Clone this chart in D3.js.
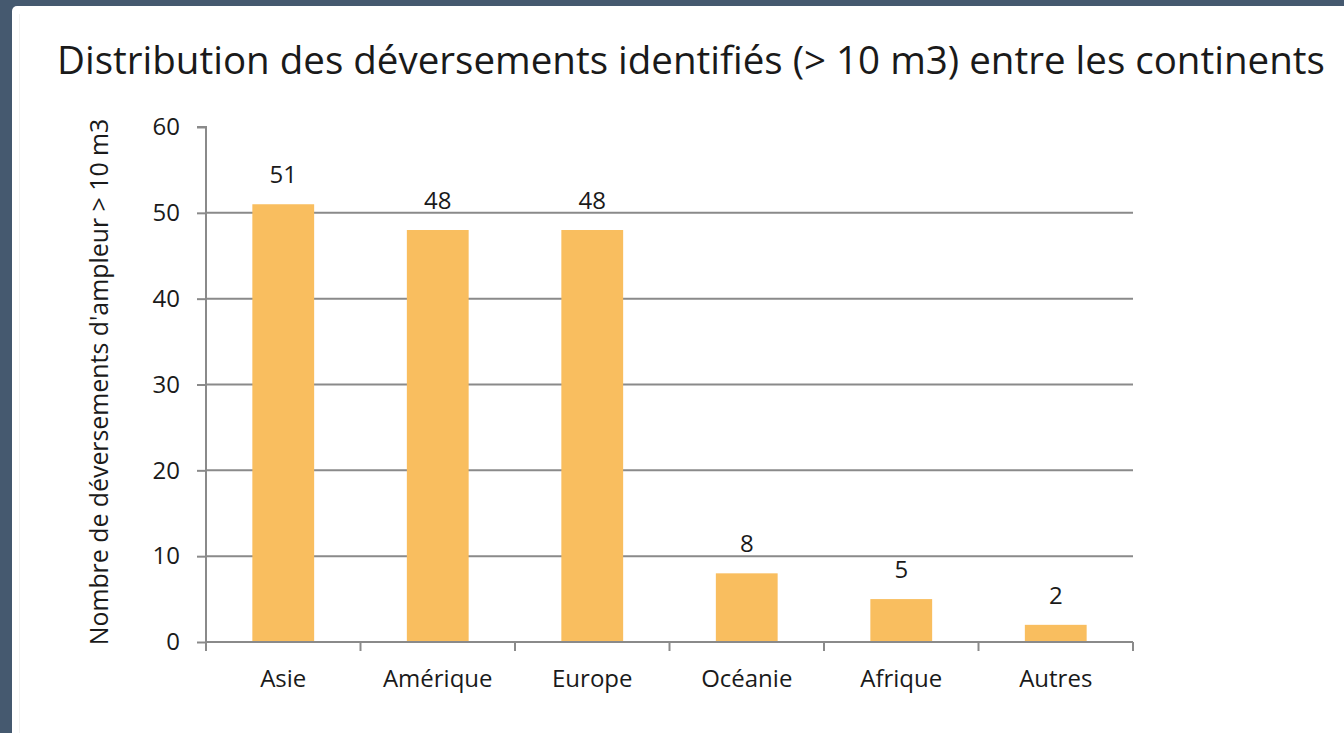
<!DOCTYPE html>
<html>
<head>
<meta charset="utf-8">
<script src="https://cdn.jsdelivr.net/npm/d3@7"></script>
<style>
  html, body { margin: 0; padding: 0; background: #45596f; }
  svg { display: block; }
  text { font-family: "Open Sans", "Noto Sans", sans-serif; fill: #1a1a1a; }
</style>
</head>
<body>
<svg id="chart" width="1344" height="733"></svg>
<script>
const categories = ["Asie", "Amérique", "Europe", "Océanie", "Afrique", "Autres"];
const values = [51, 48, 48, 8, 5, 2];
const yTicks = [0, 10, 20, 30, 40, 50, 60];
const title = "Distribution des déversements identifiés (> 10 m3) entre les continents";
const yLabel = "Nombre de déversements d'ampleur > 10 m3";

(function () {
const svg = d3.select("#chart");
const W = 1344, H = 733;

// background panel
svg.append("rect").attr("x", 0).attr("y", 0).attr("width", W).attr("height", H).attr("fill", "#45596f");
svg.append("rect").attr("x", 12).attr("y", 6).attr("width", W).attr("height", H).attr("rx", 5).attr("fill", "#ffffff");
svg.append("line").attr("x1", 19.5).attr("x2", 19.5).attr("y1", 14).attr("y2", H)
  .attr("stroke", "#f1f1f1").attr("stroke-width", 1);

const pl = 206, pr = 1133, pt = 127, pb = 642;
const x = d3.scaleBand().domain(categories).range([pl, pr]).paddingInner(0.6).paddingOuter(0.3);
const y = d3.scaleLinear().domain([0, 60]).range([pb, pt]);

const gridColor = "#8a8a8a";
const fs = 24;

// gridlines (excluding 0 and top)
svg.append("g").selectAll("line").data(yTicks.filter(t => t > 0 && t < 60)).join("line")
  .attr("x1", pl).attr("x2", pr).attr("y1", d => y(d)).attr("y2", d => y(d))
  .attr("stroke", gridColor).attr("stroke-width", 2);

// bars
svg.append("g").selectAll("rect").data(categories).join("rect")
  .attr("x", d => x(d)).attr("width", x.bandwidth())
  .attr("y", (d, i) => y(values[i])).attr("height", (d, i) => y(0) - y(values[i]))
  .attr("fill", "#f9be5f");

// y axis
const yAxis = d3.axisLeft(y).tickValues(yTicks).tickSize(9).tickPadding(17).tickFormat(d3.format("d"));
const gy = svg.append("g").attr("transform", `translate(${pl},0)`).call(yAxis);
gy.select(".domain").attr("stroke", gridColor).attr("stroke-width", 2).attr("d", `M-9,${pt}H0V${pb}`);
gy.selectAll(".tick line").attr("stroke", gridColor).attr("stroke-width", 2);
gy.selectAll(".tick text").attr("font-size", fs).attr("font-family", "\"Open Sans\", sans-serif").attr("fill", "#1a1a1a");

// x axis
const gx = svg.append("g").attr("transform", `translate(0,${pb})`);
gx.append("line").attr("x1", pl).attr("x2", pr).attr("y1", 0).attr("y2", 0)
  .attr("stroke", gridColor).attr("stroke-width", 2);
const boundaries = d3.range(categories.length + 1).map(i => pl + i * x.step());
gx.selectAll("line.tk").data(boundaries).join("line").attr("class", "tk")
  .attr("x1", d => d).attr("x2", d => d).attr("y1", 0).attr("y2", 9)
  .attr("stroke", gridColor).attr("stroke-width", 2);
gx.selectAll("text").data(categories).join("text")
  .attr("x", d => x(d) + x.bandwidth() / 2).attr("y", 45)
  .attr("text-anchor", "middle").attr("font-size", fs).text(d => d);

// value labels
svg.append("g").selectAll("text").data(categories).join("text")
  .attr("x", d => x(d) + x.bandwidth() / 2).attr("y", (d, i) => y(values[i]) - 21)
  .attr("text-anchor", "middle").attr("font-size", fs).text((d, i) => values[i]);

// y label
const yl = svg.append("text").attr("transform", `translate(108,382) rotate(-90)`)
  .attr("text-anchor", "middle").attr("font-size", 25).text(yLabel);
const ylw = yl.node().getComputedTextLength();
yl.attr("font-size", 25 * 527 / ylw);

// title (fit to the reference's width)
const t = svg.append("text").attr("x", 691).attr("y", 74).attr("text-anchor", "middle")
  .attr("font-size", 36).text(title);
const tw = t.node().getComputedTextLength();
t.attr("font-size", 36 * 1268 / tw);
})();
</script>
</body>
</html>
